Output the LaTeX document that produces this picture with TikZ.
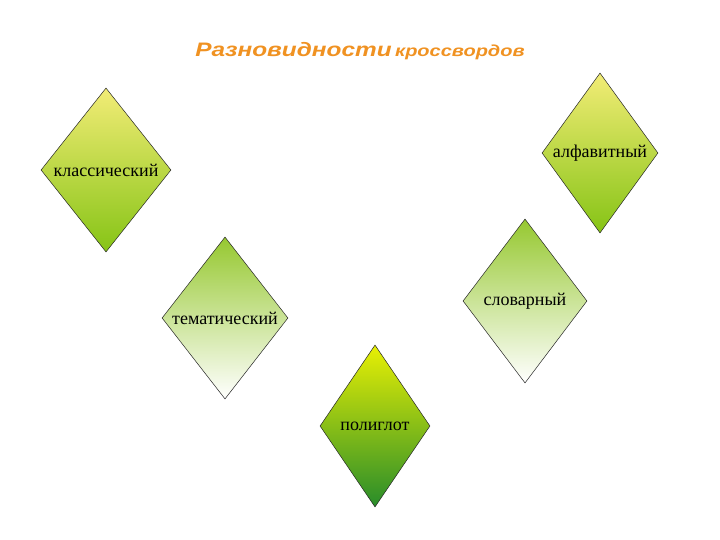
\documentclass[tikz,border=0pt]{standalone}
\usepackage{fontspec}
\setmainfont{Liberation Serif}
\newfontfamily\titlefont{Liberation Sans}
\usetikzlibrary{
  shapes.geometric
}
\definecolor{paleyellow}{RGB}{242,236,118}
\definecolor{grassgreen}{RGB}{134,196,22}
\definecolor{leafgreen}{RGB}{150,200,48}
\definecolor{brightyellow}{RGB}{232,240,4}
\definecolor{darkgreen}{RGB}{40,140,42}
\definecolor{titleorange}{RGB}{240,146,34}

\begin{document}
\begin{tikzpicture}[x=1pt, y=-1pt,
  romb/.style = {shape=diamond, draw=black!85, line width=0.5pt,
    inner sep=0pt, aspect=1, font=\fontsize{18}{20}\selectfont},
  lime/.style = {romb, top color=paleyellow, bottom color=grassgreen},
  leaf/.style = {romb, top color=leafgreen, bottom color=white},
  gold/.style = {romb, top color=brightyellow, bottom color=darkgreen}]
  \fill[white] (0,0) rectangle (720,540);
  \node (title) at (360,51) [xscale=1.25, text=titleorange,
    font=\titlefont\bfseries\itshape]
    {{\fontsize{19.5}{21}\selectfont Разновидности} {\fontsize{16}{18}\selectfont кроссвордов}};
  \node (klass) at (106,170) [lime, minimum width=130, minimum height=164] {классический};
  \node (alfav) at (600,153) [lime, minimum width=116, minimum height=160] {алфавитный};
  \node (temat) at (225,318) [leaf, minimum width=126, minimum height=162] {тематический};
  \node (slovar) at (525,301) [leaf, minimum width=124, minimum height=164] {словарный};
  \node (poliglot) at (375,426) [gold, minimum width=110, minimum height=162] {полиглот};
\end{tikzpicture}
\end{document}
